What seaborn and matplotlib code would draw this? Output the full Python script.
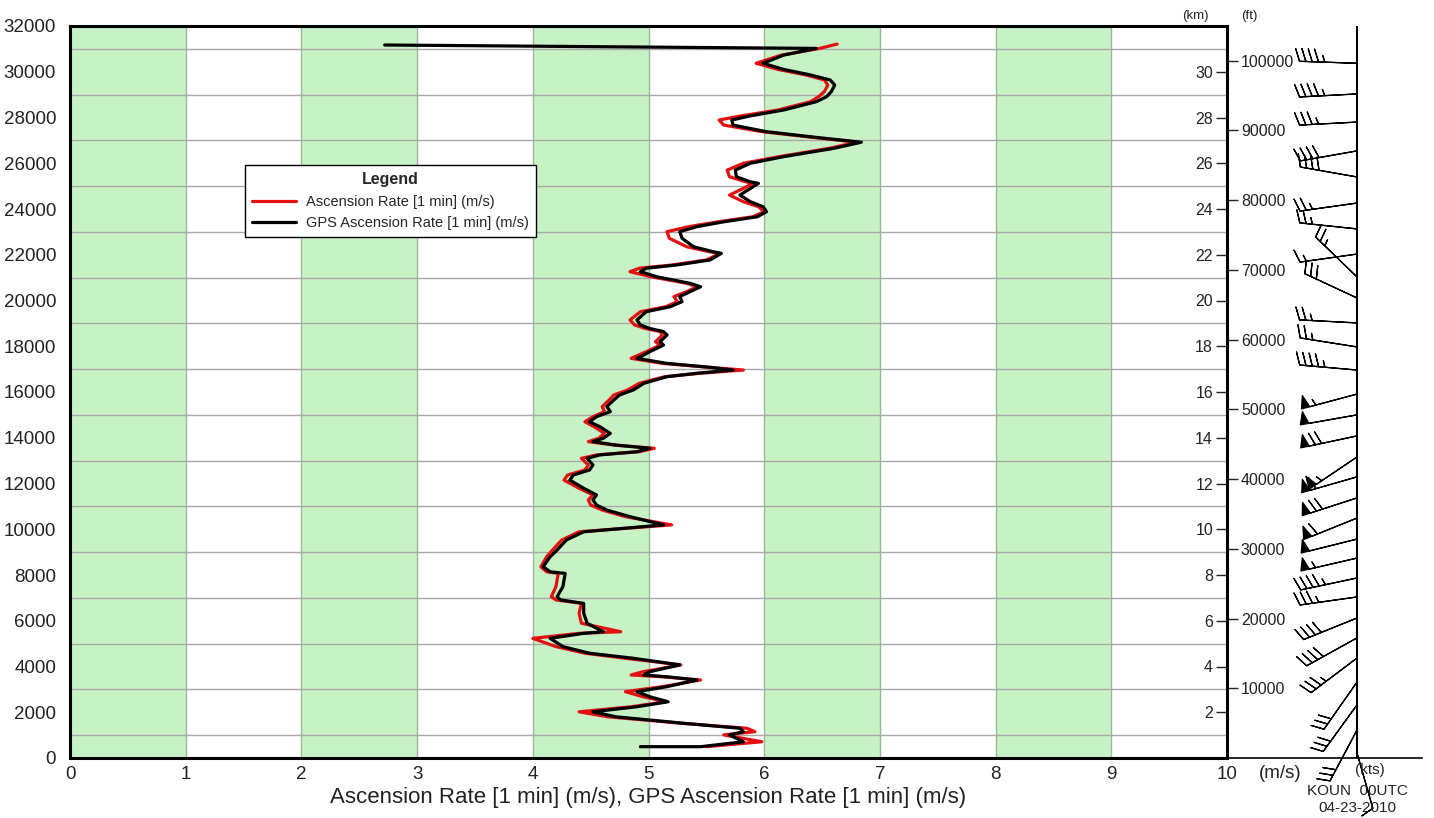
import numpy as np
import pandas as pd
import matplotlib
matplotlib.use("Agg")
import matplotlib.pyplot as plt
import seaborn as sns

# ---------------- data ----------------
gps_height = [495, 495, 710, 1010, 1150, 1300, 1520, 1800, 2020, 2240,
              2460, 2680, 2900, 3120, 3410, 3550, 3630, 3770, 4070, 4360,
              4580, 4870, 5230, 5450, 5520, 5890, 6330, 6760, 6910, 7050,
              7490, 8070, 8140, 8360, 8800, 9090, 9530, 9890, 10040, 10190,
              10550, 10840, 11060, 11280, 11500, 11790, 12150, 12370, 12590, 12810,
              13100, 13250, 13390, 13540, 13680, 13830, 13980, 14190, 14480, 14700,
              14920, 15140, 15360, 15650, 15870, 16090, 16380, 16670, 16820, 16960,
              17080, 17250, 17470, 17540, 17760, 18050, 18200, 18490, 18640, 18780,
              18930, 19150, 19510, 19730, 19950, 20170, 20390, 20600, 20750, 21040,
              21260, 21410, 21550, 21770, 22060, 22130, 22350, 22720, 23010, 23230,
              23440, 23660, 23880, 24100, 24320, 24610, 24900, 25120, 25190, 25410,
              25700, 26000, 26290, 26650, 26920, 27130, 27380, 27670, 27890, 28070,
              28330, 28690, 28910, 29130, 29420, 29640, 29860, 30100, 30370, 30730,
              31020, 31170]
gps_rate = [4.93, 5.45, 5.82, 5.70, 5.82, 5.79, 5.30, 4.72, 4.52, 4.90,
            5.17, 5.01, 4.90, 5.16, 5.42, 5.16, 4.96, 5.01, 5.27, 4.87,
            4.49, 4.26, 4.15, 4.44, 4.61, 4.47, 4.44, 4.44, 4.24, 4.21,
            4.26, 4.28, 4.15, 4.09, 4.15, 4.21, 4.29, 4.44, 4.78, 5.13,
            4.84, 4.64, 4.55, 4.52, 4.55, 4.44, 4.32, 4.35, 4.49, 4.52,
            4.47, 4.58, 4.90, 5.01, 4.72, 4.52, 4.61, 4.67, 4.58, 4.49,
            4.55, 4.67, 4.64, 4.70, 4.75, 4.87, 4.96, 5.16, 5.42, 5.73,
            5.53, 5.16, 4.90, 4.93, 5.01, 5.13, 5.10, 5.16, 5.13, 5.01,
            4.93, 4.90, 4.98, 5.19, 5.29, 5.27, 5.36, 5.45, 5.36, 5.07,
            4.93, 4.98, 5.24, 5.53, 5.63, 5.56, 5.39, 5.29, 5.27, 5.42,
            5.65, 5.94, 6.02, 5.99, 5.88, 5.79, 5.88, 5.95, 5.88, 5.76,
            5.75, 5.88, 6.17, 6.60, 6.84, 6.45, 6.02, 5.73, 5.72, 5.88,
            6.17, 6.45, 6.54, 6.58, 6.61, 6.57, 6.40, 6.17, 5.99, 6.17,
            6.45, 2.72]

asc_height = [495, 710, 1010, 1150, 1300, 1520, 1800, 2020, 2240,
              2460, 2680, 2900, 3120, 3410, 3550, 3630, 3770, 4070, 4360,
              4580, 4870, 5230, 5450, 5520, 5890, 6330, 6760, 6910, 7050,
              7490, 8070, 8140, 8360, 8800, 9090, 9530, 9890, 10040, 10190,
              10550, 10840, 11060, 11280, 11500, 11790, 12150, 12370, 12590, 12810,
              13100, 13250, 13390, 13540, 13680, 13830, 13980, 14190, 14480, 14700,
              14920, 15140, 15360, 15650, 15870, 16090, 16380, 16670, 16820, 16960,
              17080, 17250, 17470, 17540, 17760, 18050, 18200, 18490, 18640, 18780,
              18930, 19150, 19510, 19730, 19950, 20170, 20390, 20600, 20750, 21040,
              21260, 21410, 21550, 21770, 22060, 22130, 22350, 22720, 23010, 23230,
              23440, 23660, 23880, 24100, 24320, 24610, 24900, 25120, 25190, 25410,
              25700, 26000, 26290, 26650, 26920, 27130, 27380, 27670, 27890, 28070,
              28330, 28690, 28910, 29130, 29420, 29640, 29860, 30100, 30370, 30730,
              31020, 31210]
asc_rate = [5.50, 5.98, 5.65, 5.92, 5.85, 5.28, 4.65, 4.40, 4.85,
            5.15, 4.95, 4.80, 5.12, 5.45, 5.12, 4.85, 4.95, 5.28, 4.80,
            4.45, 4.20, 4.00, 4.40, 4.76, 4.42, 4.40, 4.42, 4.20, 4.16,
            4.20, 4.22, 4.12, 4.07, 4.12, 4.17, 4.25, 4.40, 4.80, 5.20,
            4.80, 4.60, 4.50, 4.48, 4.52, 4.40, 4.27, 4.30, 4.45, 4.48,
            4.42, 4.55, 4.92, 5.05, 4.70, 4.48, 4.57, 4.62, 4.53, 4.45,
            4.52, 4.62, 4.60, 4.66, 4.70, 4.82, 4.92, 5.14, 5.45, 5.82,
            5.52, 5.12, 4.85, 4.88, 4.98, 5.10, 5.06, 5.12, 5.10, 4.97,
            4.88, 4.84, 4.93, 5.15, 5.25, 5.22, 5.33, 5.42, 5.33, 5.02,
            4.84, 4.92, 5.20, 5.50, 5.62, 5.53, 5.33, 5.18, 5.16, 5.35,
            5.60, 5.90, 6.00, 5.95, 5.82, 5.70, 5.82, 5.90, 5.84, 5.70,
            5.68, 5.82, 6.13, 6.56, 6.80, 6.42, 5.98, 5.65, 5.61, 5.80,
            6.12, 6.40, 6.47, 6.52, 6.55, 6.52, 6.36, 6.12, 5.93, 6.15,
            6.48, 6.63]

barb_height = [30370, 29030, 27800, 26540, 25400, 24260, 23130, 22030, 21030, 20110, 19020,
               17970, 16960, 15910, 15000, 14080, 13160, 12290, 11370, 10490, 9570, 8740,
               7870, 7040, 6120, 5250, 4370, 3320, 2320, 1220, 220]
barb_dir = [272, 267, 267, 260, 280, 262, 276, 262, 314, 295, 273,
            279, 275, 255, 260, 258, 236, 254, 252, 248, 256, 257,
            258, 262, 248, 241, 233, 215, 216, 208, 164]
barb_speed = [45, 45, 35, 40, 40, 25, 25, 15, 25, 30, 25,
              25, 45, 55, 50, 70, 55, 60, 70, 60, 50, 55,
              45, 35, 40, 40, 35, 30, 30, 30, 10]

x_ticks = list(range(0, 11))
y_ticks = list(range(0, 32001, 2000))
km_ticks = list(range(2, 31, 2))
ft_ticks = list(range(10000, 100001, 10000))

series_names = ["Ascension Rate [1 min] (m/s)", "GPS Ascension Rate [1 min] (m/s)"]

# ---------------- style ----------------
sns.set_style("white")
plt.rcParams['font.family'] = ['Liberation Sans', 'DejaVu Sans']

W, H = 1434, 818
fig = plt.figure(figsize=(W / 100, H / 100), dpi=100)
L, R, B, T = 70 / W, 1227 / W, (H - 758) / H, (H - 26) / H
ax = fig.add_axes([L, B, R - L, T - B])
ax.set_xlim(0, 10)
ax.set_ylim(0, 32000)

for k in x_ticks[:-1:2]:
    ax.axvspan(k, k + 1, color='#c6f2c6', zorder=0, lw=0)

ax.set_xticks(x_ticks)
ax.set_yticks(y_ticks)
ax.set_yticks(list(range(0, 32001, 1000)), minor=True)
ax.grid(True, axis='x', which='major', color='#9cb59c', lw=1, zorder=1)
ax.grid(True, axis='y', which='minor', color='#a8a8a8', lw=1, zorder=1)
ax.set_axisbelow(True)

df_asc = pd.DataFrame({'rate': asc_rate, 'height': asc_height})
df_gps = pd.DataFrame({'rate': gps_rate, 'height': gps_height})
sns.lineplot(data=df_asc, x='rate', y='height', sort=False, estimator=None,
             color='#e41010', lw=2.3, ax=ax, label=series_names[0], zorder=3)
sns.lineplot(data=df_gps, x='rate', y='height', sort=False, estimator=None,
             color='black', lw=2.3, ax=ax, label=series_names[1], zorder=4)

ax.set_xlabel("Ascension Rate [1 min] (m/s), GPS Ascension Rate [1 min] (m/s)", fontsize=16,
              labelpad=3, color='#222222')
ax.set_ylabel("")
ax.tick_params(axis='both', which='both', length=0, labelsize=13.5, colors='#222222')
ax.tick_params(axis='y', pad=10)
ax.tick_params(axis='x', pad=6)
for s in ax.spines.values():
    s.set_color('black')
    s.set_linewidth(2.2)
    s.set_visible(True)

leg = ax.legend(loc='upper left', bbox_to_anchor=(0.151, 0.81), borderaxespad=0, title='Legend',
                frameon=True, fancybox=False, edgecolor='black', framealpha=1,
                fontsize=10.5, title_fontproperties={'weight': 'bold', 'size': 11.5},
                handlelength=3.0, handletextpad=0.7, labelspacing=0.5, borderpad=0.5)
leg.get_frame().set_linewidth(1)

# km axis (labels inside, left of right spine)
sec_km = ax.secondary_yaxis(1.0, functions=(lambda m: m / 1000.0, lambda k: k * 1000.0))
sec_km.set_alignment('left')
sec_km.set_yticks(km_ticks)
sec_km.tick_params(length=8, width=1, pad=2, labelsize=11.5, direction='out', colors='#222222')
for s in sec_km.spines.values():
    s.set_visible(False)

# ft axis (outside)
sec_ft = ax.secondary_yaxis(1.0, functions=(lambda m: m / 0.3048, lambda f: f * 0.3048))
sec_ft.set_yticks(ft_ticks)
sec_ft.tick_params(length=8, width=1, pad=2, labelsize=11.5, direction='out', colors='#222222')
for s in sec_ft.spines.values():
    s.set_visible(False)

fig.text(1195 / W, 1 - 16 / H, "(km)", fontsize=9.5, ha='center', va='center', color='#222222')
fig.text(1249 / W, 1 - 16 / H, "(ft)", fontsize=9.5, ha='center', va='center', color='#222222')
fig.text(1280 / W, 1 - 773 / H, "(m/s)", fontsize=13.5, ha='center', va='center', color='#222222')

# ---------------- wind barbs ----------------
axb = fig.add_axes([1227 / W, B, (1422 - 1227) / W, T - B])
axb.set_ylim(0, 32000)
axb.set_xlim(-1.0, 0.5)
axb.set_facecolor('none')
for side in ['top', 'right', 'left']:
    axb.spines[side].set_visible(False)
axb.spines['bottom'].set_color('black')
axb.spines['bottom'].set_linewidth(1.2)
axb.set_xticks([])
axb.set_yticks([])
axb.axvline(0, color='black', lw=1.5)

spd = np.array(barb_speed, dtype=float)
th = np.deg2rad(np.array(barb_dir, dtype=float))
u = -spd * np.sin(th)
v = -spd * np.cos(th)
axb.barbs(np.zeros(len(barb_height)), barb_height, u, v, length=9.1, pivot='tip',
          sizes=dict(spacing=0.11, height=0.22, width=0.15, emptybarb=0.05),
          barbcolor='black', flagcolor='black', lw=0.9, clip_on=False)

fig.text(1370 / W, 1 - 770 / H, "(kts)", fontsize=11, ha='center', va='center', color='#222222')
fig.text(1357 / W, 1 - 791 / H, "KOUN  00UTC", fontsize=11, ha='center', va='center', color='#222222')
fig.text(1357 / W, 1 - 808 / H, "04-23-2010", fontsize=11, ha='center', va='center', color='#222222')

fig.savefig("out.png", dpi=100)
